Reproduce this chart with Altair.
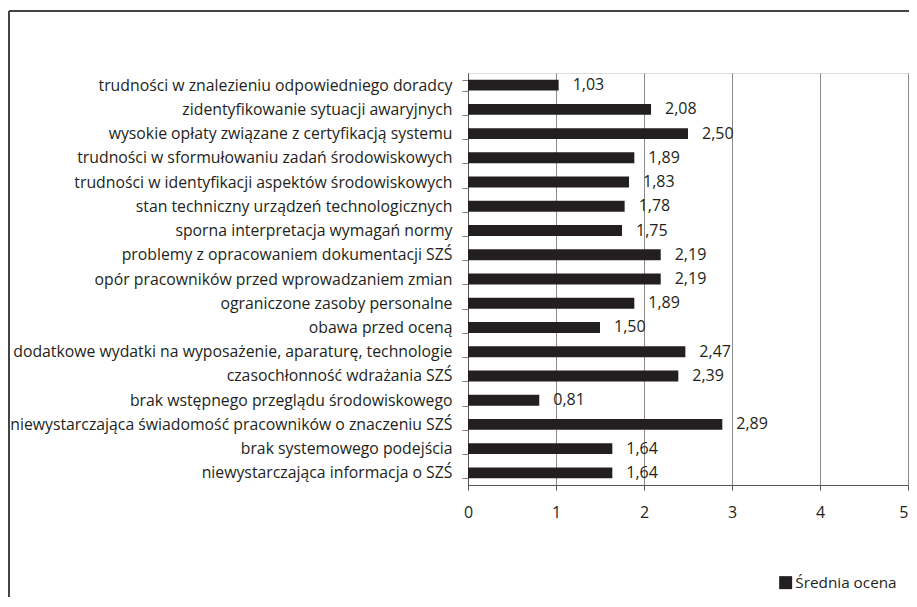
import altair as alt
import pandas as pd

categories = [
    "trudności w znalezieniu odpowiedniego doradcy ",
    "zidentyfikowanie sytuacji awaryjnych",
    "wysokie opłaty związane z certyfikacją systemu",
    "trudności w sformułowaniu zadań środowiskowych",
    "trudności w identyfikacji aspektów środowiskowych ",
    "stan techniczny urządzeń technologicznych",
    "sporna interpretacja wymagań normy",
    "problemy z opracowaniem dokumentacji SZŚ",
    "opór pracowników przed wprowadzaniem zmian",
    "ograniczone zasoby personalne",
    "obawa przed oceną",
    "dodatkowe wydatki na wyposażenie, aparaturę, technologie",
    "czasochłonność wdrażania SZŚ",
    "brak wstępnego przeglądu środowiskowego",
    "niewystarczająca świadomość pracowników o znaczeniu SZŚ",
    "brak systemowego podejścia ",
    "niewystarczająca informacja o SZŚ",
]
values = [1.03, 2.08, 2.50, 1.89, 1.83, 1.78, 1.75, 2.19, 2.19, 1.89, 1.50,
          2.47, 2.39, 0.81, 2.89, 1.64, 1.64]
series_name = "Średnia ocena"
x_ticks = [0, 1, 2, 3, 4, 5]

df = pd.DataFrame({"kategoria": categories, "ocena": values, "seria": series_name})

FONT = "Open Sans"
INK = "#231f20"
W, H = 440, 412

y_enc = alt.Y(
    "kategoria:N",
    sort=categories,
    scale=alt.Scale(paddingInner=0.55, paddingOuter=0.275),
    axis=alt.Axis(
        title=None, labelFont=FONT, labelFontSize=15.8, labelColor=INK,
        tickBand="extent", tickSize=6, tickColor="#7f7f7f",
        domainColor="#555555", labelPadding=10, labelLimit=460,
    ),
)
x_enc = alt.X(
    "ocena:Q",
    scale=alt.Scale(domain=[0, 5], nice=False),
    axis=alt.Axis(
        title=None, values=x_ticks, labelFont=FONT, labelFontSize=16,
        labelColor=INK, tickSize=5, tickColor="#555555", domainColor="#555555",
        gridColor="#8c8c8c", gridWidth=1, labelPadding=14, format="d",
        labelAlign={"condition": {"test": "datum.value == 5", "value": "right"}, "value": "center"},
    ),
)

bars = alt.Chart(df).mark_bar(color=INK).encode(
    x=x_enc,
    y=y_enc,
    color=alt.Color(
        "seria:N",
        scale=alt.Scale(range=[INK]),
        legend=alt.Legend(
            title=None, orient="none", legendX=310, legendY=502,
            symbolType="square", symbolSize=169, symbolStrokeWidth=0,
            labelFont=FONT, labelFontSize=15.3, labelColor=INK, padding=0,
            symbolOffset=0, labelOffset=2,
        ),
    ),
)

labels = alt.Chart(df).transform_calculate(
    txt="replace(format(datum.ocena, '.2f'), '.', ',')"
).mark_text(align="left", baseline="middle", dx=14, font=FONT, fontSize=16, color=INK).encode(
    x="ocena:Q", y=alt.Y("kategoria:N", sort=categories), text="txt:N"
)

border_df = pd.DataFrame({"k": [0]})
top_border = alt.Chart(border_df).mark_rule(color="#444444", strokeWidth=2).encode(
    x=alt.value(-459), x2=alt.value(W + 20), y=alt.value(-62)
)
left_border = alt.Chart(border_df).mark_rule(color="#444444", strokeWidth=2).encode(
    x=alt.value(-459), y=alt.value(-62), y2=alt.value(H + 200)
)

chart = alt.layer(bars, labels, top_border, left_border).properties(
    width=W, height=H,
    autosize=alt.AutoSizeParams(type="none"),
    padding={"left": 460, "top": 65, "right": 1, "bottom": 112},
).configure_view(stroke=None).configure(background="white")

chart.save("out.html", embed_options={"renderer": "svg", "actions": False})
